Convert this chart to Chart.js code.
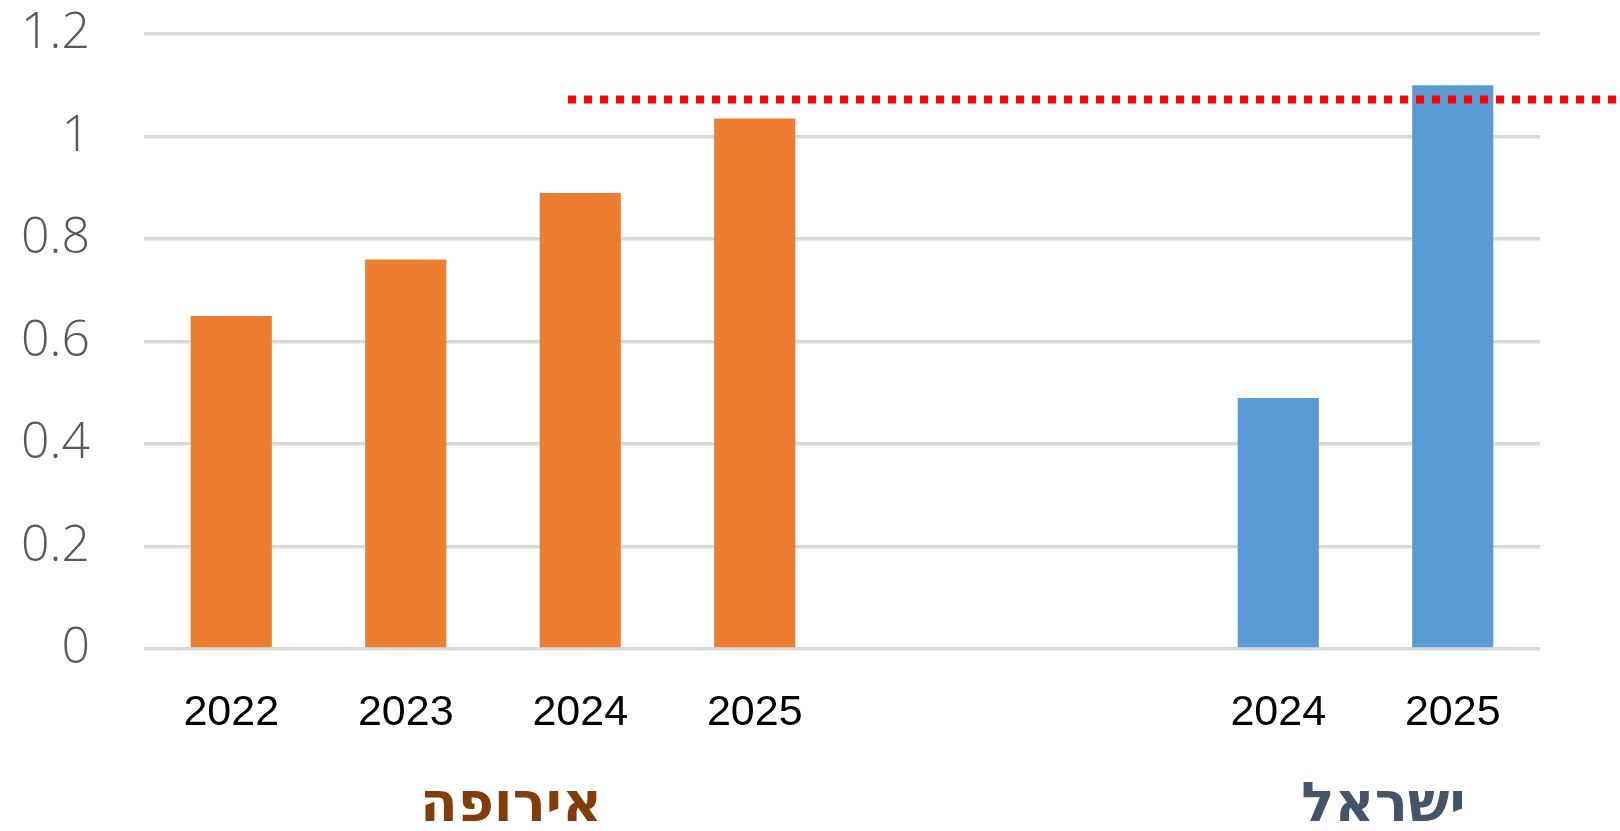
<!DOCTYPE html>
<html lang="he">

<head>
    <meta charset="UTF-8">
    <title>אירופה / ישראל</title>
    <script src="https://cdn.jsdelivr.net/npm/chart.js"></script>
    <style>
        body { margin: 0; background: #ffffff; }
        #wrap { width: 1620px; height: 831px; }
    </style>
</head>

<body>
    <div id="wrap">
        <canvas id="barChart" width="1620" height="831"></canvas>
    </div>

    <script>
        // data
        const categories = ['2022', '2023', '2024', '2025', '', '', '2024', '2025'];
        const europeValues = [0.65, 0.76, 0.89, 1.035, null, null, null, null];
        const israelValues = [null, null, null, null, null, null, 0.49, 1.1];
        const yTicks = [0, 0.2, 0.4, 0.6, 0.8, 1, 1.2];

        // group captions under the years
        const groupNames = ['אירופה', 'ישראל'];
        const groupFirst = [0, 6];
        const groupLast = [3, 7];
        const groupColors = ['#843C0C', '#44546A'];

        // red dotted reference line
        const targetValue = 1.072;
        const targetFrom = 1.93; // category index where it starts

        const groupLabels = {
            id: 'groupLabels',
            afterDraw(chart) {
                const ctx = chart.ctx;
                const x = chart.scales.x;
                ctx.save();
                ctx.font = 'bold 55px "DejaVu Sans", "Liberation Sans", sans-serif';
                ctx.textAlign = 'center';
                ctx.textBaseline = 'alphabetic';
                groupNames.forEach((name, i) => {
                    const cx = (x.getPixelForValue(groupFirst[i]) + x.getPixelForValue(groupLast[i])) / 2 + 18;
                    ctx.fillStyle = groupColors[i];
                    ctx.fillText(name, cx, chart.chartArea.bottom + 172);
                });
                ctx.restore();
            }
        };

        const targetLine = {
            id: 'targetLine',
            afterDatasetsDraw(chart) {
                const ctx = chart.ctx;
                const y = chart.scales.y.getPixelForValue(targetValue);
                const x0 = chart.scales.x.getPixelForValue(targetFrom);
                ctx.save();
                ctx.strokeStyle = '#FF0000';
                ctx.lineWidth = 8;
                ctx.setLineDash([8, 8]);
                ctx.beginPath();
                ctx.moveTo(x0, y);
                ctx.lineTo(chart.width, y);
                ctx.stroke();
                ctx.restore();
            }
        };

        const ctx = document.getElementById('barChart').getContext('2d');
        const chart = new Chart(ctx, {
            type: 'bar',
            data: {
                labels: categories,
                datasets: [
                    {
                        label: 'אירופה',
                        data: europeValues,
                        backgroundColor: '#ED7D31',
                        categoryPercentage: 0.465,
                        barPercentage: 1.0
                    },
                    {
                        label: 'ישראל',
                        data: israelValues,
                        backgroundColor: '#5B9BD5',
                        categoryPercentage: 0.465,
                        barPercentage: 1.0
                    }
                ]
            },
            options: {
                responsive: false,
                animation: false,
                skipNull: true,
                layout: {
                    padding: { top: 34, right: 80, bottom: 0, left: 0 }
                },
                plugins: {
                    legend: { display: false },
                    title: { display: false },
                    tooltip: { enabled: false }
                },
                scales: {
                    x: {
                        grid: { display: false, drawTicks: false },
                        border: { display: false },
                        ticks: {
                            color: '#000000',
                            padding: 38,
                            font: { family: '"Liberation Sans", sans-serif', size: 43 }
                        },
                        afterFit(scale) { scale.height = 182; }
                    },
                    y: {
                        min: 0,
                        max: 1.2,
                        afterBuildTicks(scale) {
                            scale.ticks = yTicks.map(v => ({ value: v }));
                        },
                        grid: { color: '#D9D9D9', lineWidth: 3.5, drawTicks: false },
                        border: { display: false },
                        ticks: {
                            color: '#595959',
                            padding: 54,
                            font: { family: '"Open Sans", "Liberation Sans", sans-serif', size: 50, weight: 300 },
                            callback: (v) => String(Math.round(v * 10) / 10)
                        },
                        afterFit(scale) {
                            scale.width = 144;
                            scale.paddingTop = 0;
                            scale.paddingBottom = 0;
                        }
                    }
                }
            },
            plugins: [targetLine, groupLabels]
        });
    </script>
</body>

</html>
